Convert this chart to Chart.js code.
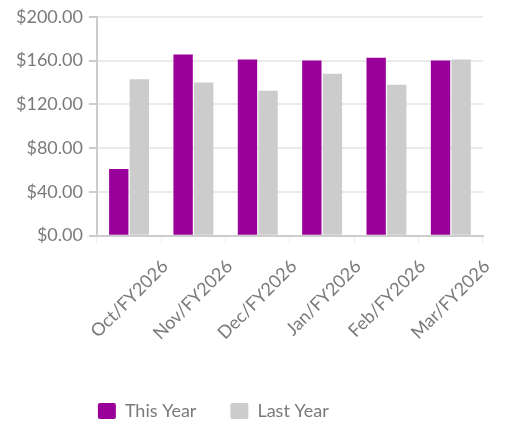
<!DOCTYPE html>
<html>
<head>
<meta charset="utf-8">
<script src="https://cdn.jsdelivr.net/npm/chart.js@4/dist/chart.umd.min.js"></script>
<style>
  html, body { margin: 0; padding: 0; background: #fff; }
  #wrap { width: 505px; height: 425px; }
</style>
</head>
<body>
<div id="wrap"><canvas id="chart" width="505" height="425"></canvas></div>
<script>
const months = ['Oct/FY2026', 'Nov/FY2026', 'Dec/FY2026', 'Jan/FY2026', 'Feb/FY2026', 'Mar/FY2026'];
const thisYear = [61, 165.5, 161, 160, 162.5, 160];
const lastYear = [143, 140, 132.5, 148, 138, 161];
const yTicks = [0, 40, 80, 120, 160, 200];

const FONT = 'Lato, "Open Sans", sans-serif';
const TEXT = '#7a7a7a';

// legend sits under the plot, lined up with the y axis
const legendShift = {
    id: 'legendShift',
    afterLayout(chart) {
        const lg = chart.legend;
        const pad = lg.options.labels.padding;
        const dx = chart.chartArea.left - pad - lg.left + 1;
        lg.left += dx; lg.right += dx;
        lg.top += 5; lg.bottom += 5;
    }
};

new Chart(document.getElementById('chart'), {
    type: 'bar',
    data: {
        labels: months,
        datasets: [
            { label: 'This Year', data: thisYear, backgroundColor: '#990099', categoryPercentage: 0.64, barPercentage: 0.94 },
            { label: 'Last Year', data: lastYear, backgroundColor: '#cccccc', categoryPercentage: 0.64, barPercentage: 0.94 }
        ]
    },
    options: {
        responsive: false,
        animation: false,
        layout: { padding: { top: 6, right: 22, left: 10, bottom: 0 } },
        plugins: {
            legend: {
                position: 'bottom',
                align: 'start',
                labels: {
                    font: { family: FONT, size: 18 },
                    color: TEXT,
                    boxWidth: 18,
                    boxHeight: 16,
                    padding: 34,
                    useBorderRadius: true,
                    borderRadius: 2
                }
            },
            tooltip: { enabled: false }
        },
        scales: {
            x: {
                grid: { drawOnChartArea: false, color: '#eeeeee', tickLength: 8 },
                border: { color: '#cccccc', width: 2 },
                ticks: {
                    font: { family: FONT, size: 18 },
                    color: TEXT,
                    maxRotation: 45,
                    minRotation: 45,
                    labelOffset: 36,
                    padding: 12
                },
                afterFit(scale) { scale.height += 7; }
            },
            y: {
                min: 0,
                max: 200,
                afterBuildTicks(scale) { scale.ticks = yTicks.map(v => ({ value: v })); },
                grid: { color: '#ebebeb', lineWidth: 2, tickColor: '#cccccc', tickLength: 8 },
                border: { color: '#cccccc', width: 2 },
                ticks: {
                    font: { family: FONT, size: 18 },
                    color: TEXT,
                    padding: 6,
                    callback: v => '$' + Number(v).toFixed(2)
                }
            }
        }
    },
    plugins: [legendShift]
});
</script>
</body>
</html>
